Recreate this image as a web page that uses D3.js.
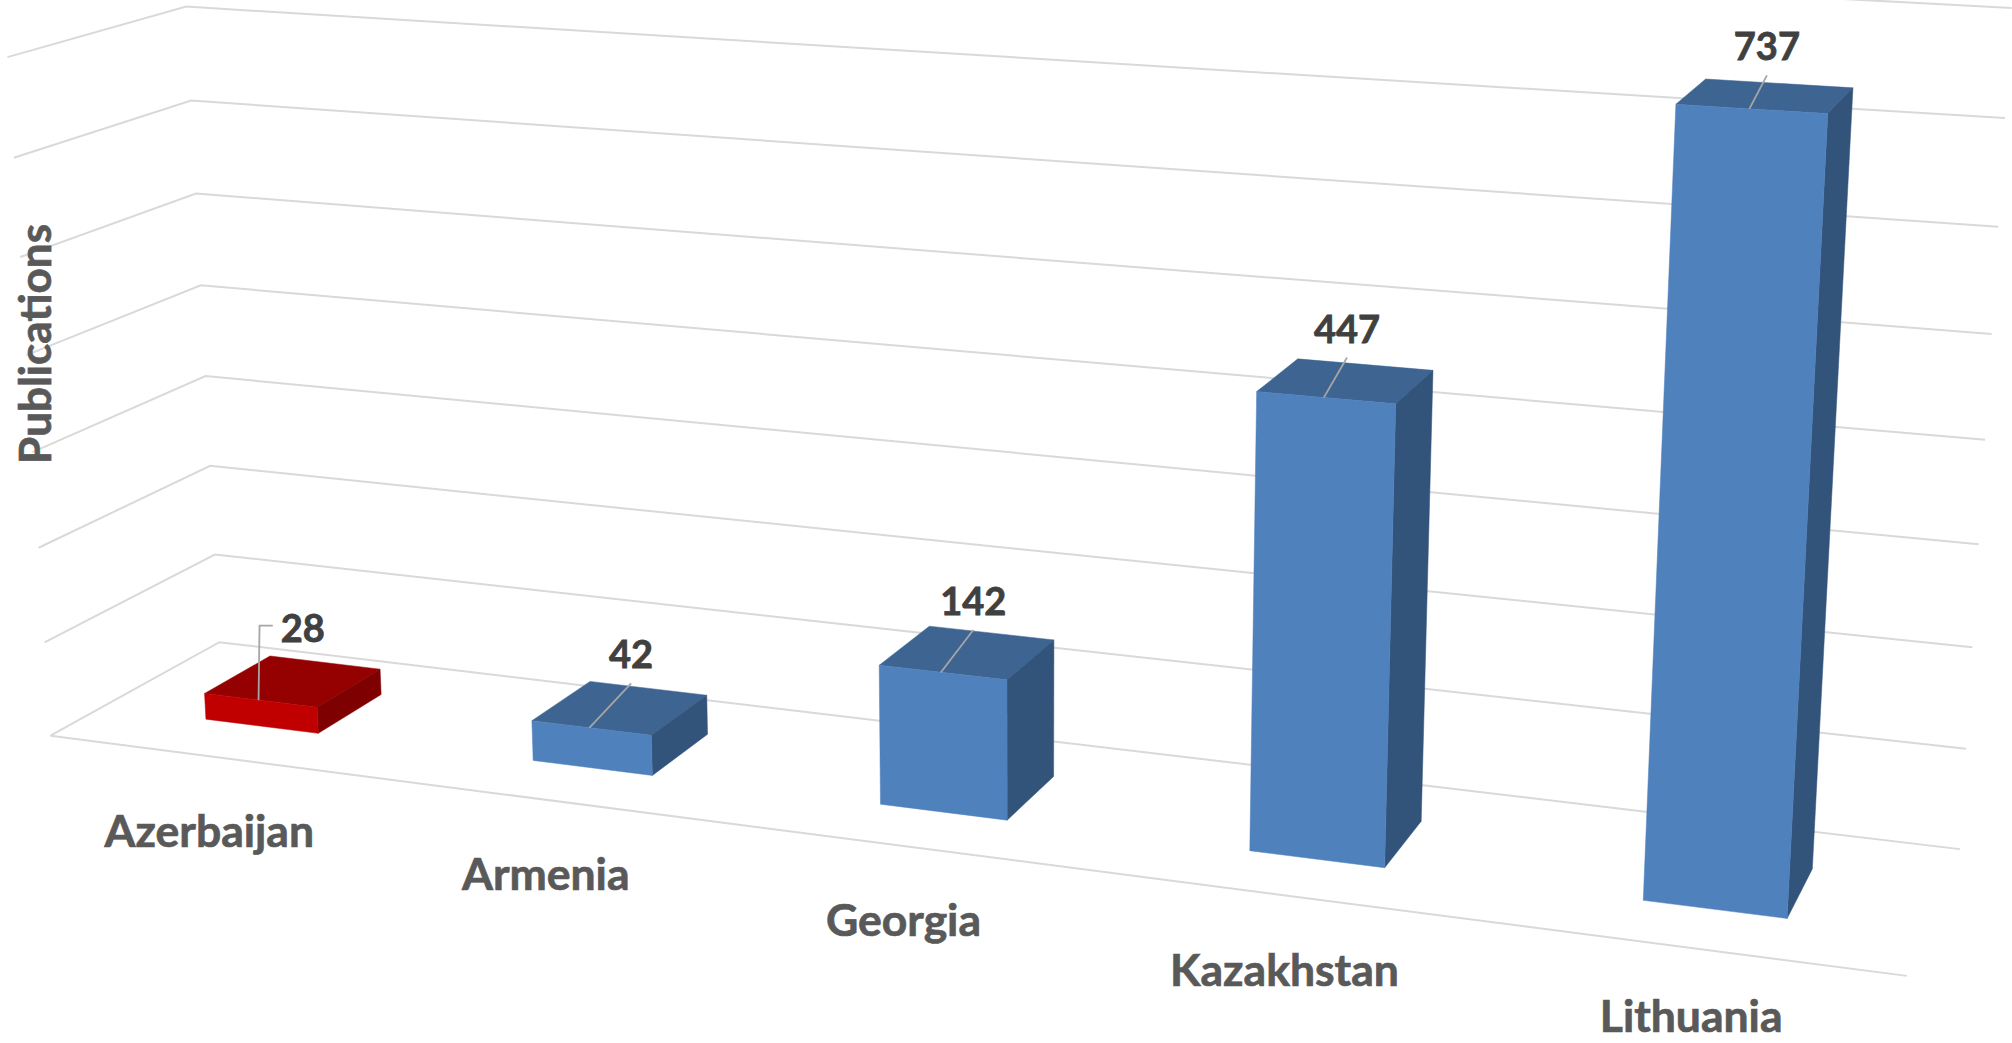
<!DOCTYPE html>
<html><head><meta charset="utf-8"><script src="https://cdn.jsdelivr.net/npm/d3@7"></script>
<style>html,body{margin:0;background:#fff}svg{display:block}text{font-family:Lato,"Open Sans",sans-serif;font-weight:700;paint-order:stroke}</style></head><body><script>
// ---- data ----
const categories=["Azerbaijan","Armenia","Georgia","Kazakhstan","Lithuania"];
const publications=[28,42,142,447,737];
const highlighted=["Azerbaijan"];
const axisMax=800, tickCount=8;
const axisTitle="Publications";

// ---- perspective camera, fitted to the chart's box corners ----
const wallFront=[[50.5,735.7],[44.5,642],[38.5,548],[33,451],[27,356],[20,257],[13.3,157.7],[7.3,57.3]];
const wallCorner=[[219.5,642.3],[214.4,554.7],[210,466],[205.7,376],[200.7,285.3],[195.7,193.3],[191.3,100.3],[186.7,6.7]];
const wallRight=[[1960,849],[1966,749],[1972,647],[1979,544],[1985,440],[1992,334],[1998,227],[2005,118]];
const floorRight=[1907,976];
const labelNudgeX=[-4,1,0,0,6], labelNudgeY=[1,2,4,0,-1];
const fit=[];
wallFront.forEach((_,l)=>{
  fit.push([0,l/8,0,...wallFront[l]]);
  fit.push([0,l/8,1,...wallCorner[l]]);
  fit.push([1,l/8,1,...wallRight[l]]);
});
fit.push([1,0,0,...floorRight]);
const N=11,A=d3.range(N).map(()=>new Array(N+1).fill(0));
function addRow(r,b){for(let i=0;i<N;i++){for(let j=0;j<N;j++)A[i][j]+=r[i]*r[j];A[i][N]+=r[i]*b;}}
fit.forEach(([u,v,w,x,y])=>{x/=1000;y/=1000;
  addRow([u,v,w,1,0,0,0,0,-x*u,-x*v,-x*w],x);
  addRow([0,0,0,0,u,v,w,1,-y*u,-y*v,-y*w],y);});
for(let i=0;i<N;i++){let m=i;for(let k=i;k<N;k++)if(Math.abs(A[k][i])>Math.abs(A[m][i]))m=k;
  [A[i],A[m]]=[A[m],A[i]];
  for(let k=0;k<N;k++){if(k==i)continue;const f=A[k][i]/A[i][i];for(let j=i;j<=N;j++)A[k][j]-=f*A[i][j];}}
const p=A.map((r,i)=>r[N]/r[i]);
function project(u,v,w){const d=p[8]*u+p[9]*v+p[10]*w+1;
  return [1000*(p[0]*u+p[1]*v+p[2]*w+p[3])/d,1000*(p[4]*u+p[5]*v+p[6]*w+p[7])/d];}

// ---- scales ----
const xBand=d3.scaleBand().domain(categories).range([0,1]).paddingInner(0.65).paddingOuter(0.325);
const yVal=d3.scaleLinear().domain([0,axisMax]).range([0,1]);
const depthFront=0.3, depthBack=0.7;

const svg=d3.select("body").append("svg").attr("width",2012).attr("height",1043);
const line=d3.line();

// gridlines (left wall + back wall)
const grid=svg.append("g").attr("fill","none").attr("stroke","#d9d9d9").attr("stroke-width",2);
grid.selectAll("path.tick").data(yVal.ticks(tickCount)).join("path").attr("class","tick")
  .attr("d",t=>line([project(0,yVal(t),0),project(0,yVal(t),1),project(1,yVal(t),1)]));
grid.append("path").attr("d",line([project(0,0,0),project(1,0,0)]));

// bars
const colours=c=>highlighted.includes(c)
  ?{front:"#c00000",top:"#950000",side:"#7f0000"}
  :{front:"#4f81bd",top:"#3e6491",side:"#32537a"};
const rows=categories.map((c,i)=>({c,i,value:publications[i],u0:xBand(c),u1:xBand(c)+xBand.bandwidth(),v:yVal(publications[i])}));
const bar=svg.selectAll("g.bar").data(rows).join("g").attr("class","bar");
const face=(name,fn)=>bar.append("path").attr("d",d=>line(fn(d))+"Z").attr("fill",d=>colours(d.c)[name]).attr("stroke",d=>colours(d.c)[name]).attr("stroke-width",.5);
face("top",d=>[project(d.u0,d.v,depthFront),project(d.u1,d.v,depthFront),project(d.u1,d.v,depthBack),project(d.u0,d.v,depthBack)]);
face("side",d=>[project(d.u1,0,depthFront),project(d.u1,0,depthBack),project(d.u1,d.v,depthBack),project(d.u1,d.v,depthFront)]);
face("front",d=>[project(d.u0,0,depthFront),project(d.u1,0,depthFront),project(d.u1,d.v,depthFront),project(d.u0,d.v,depthFront)]);

// value labels with leader lines
const labelAt=d=>{const q=project((d.u0+d.u1)/2,d.v,depthBack);return [q[0]-18+labelNudgeX[d.i],q[1]-22+labelNudgeY[d.i]];};
bar.append("path").attr("fill","none").attr("stroke","#a6a6a6").attr("stroke-width",1.8)
  .attr("d",d=>{const s=project((d.u0+d.u1)/2,d.v,depthFront),l=labelAt(d);s[0]-=2;
    return highlighted.includes(d.c)
      ?line([s,[s[0]+1,l[1]-16],[l[0]-30,l[1]-16]])
      :line([s,[l[0],l[1]+15]]);});
bar.append("text").attr("text-anchor","middle").attr("font-size",38).attr("fill","#404040")
  .attr("stroke","#404040").attr("stroke-width",.8)
  .attr("x",d=>labelAt(d)[0]).attr("y",d=>labelAt(d)[1]).text(d=>d.value);

// category labels
svg.selectAll("text.cat").data(rows).join("text").attr("class","cat").attr("text-anchor","middle")
  .attr("font-size",44.5).attr("fill","#595959").attr("stroke","#595959").attr("stroke-width",.7)
  .attr("x",d=>project((d.u0+d.u1)/2,0,0)[0]-2)
  .attr("y",d=>Math.min(project((d.u0+d.u1)/2,0,0)[1]+90,1032)).text(d=>d.c);

// axis title
svg.append("text").attr("text-anchor","middle").attr("font-size",44).attr("fill","#595959")
  .attr("stroke","#595959").attr("stroke-width",.7)
  .attr("transform","translate(51,344) rotate(-90)").text(axisTitle);
</script></body></html>
